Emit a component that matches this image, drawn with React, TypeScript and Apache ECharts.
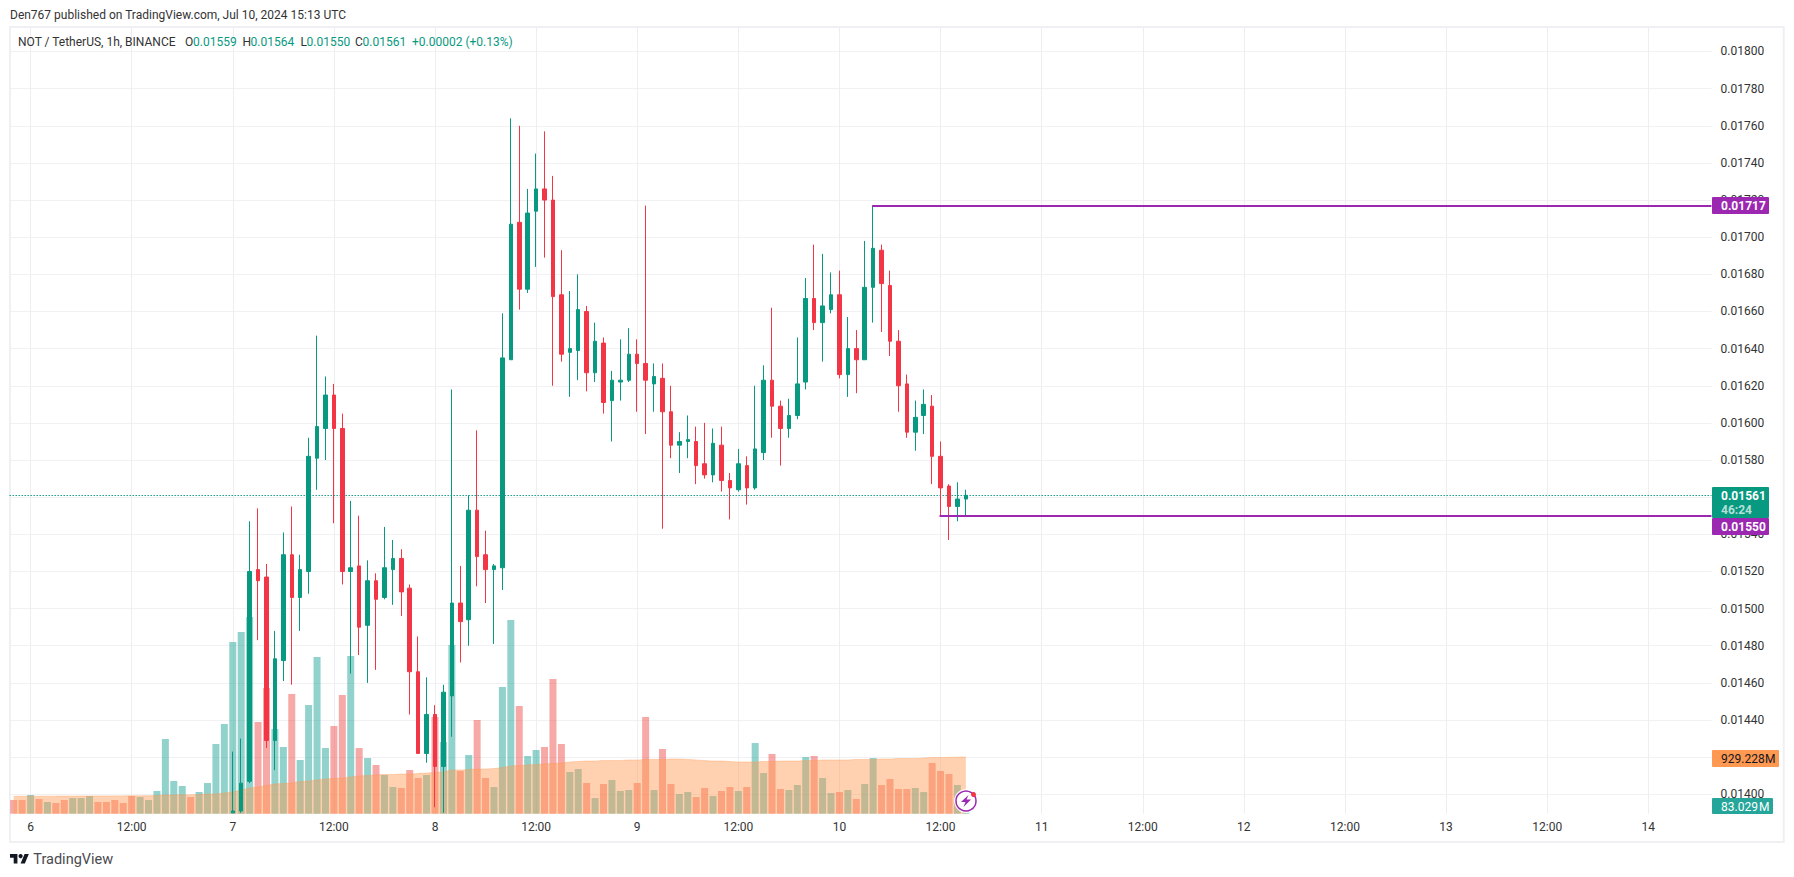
import React, { useEffect, useRef } from "react";
import * as echarts from "echarts";

const FONT = "Roboto, 'Liberation Sans', sans-serif";
const UP = "#089981";
const DOWN = "#F23645";
const PURPLE = "#9C27B0";
const BAND_COUNT = 202;
const FIRST_CANDLE = 26;

const timeTicks = ["6", "12:00", "7", "12:00", "8", "12:00", "9", "12:00", "10", "12:00", "11", "12:00", "12", "12:00", "13", "12:00", "14"];

// prices in units of 0.00001, from Jul 7 00:00 on (earlier candles lie below the pane)
const opens = [1390,1391,1407,1521,1517,1429,1472,1529,1506,1520,1581,1597,1615,1597,1520,1523,1491,1515,1506,1521,1527,1511,1466,1422,1443,1415,1453,1503,1494,1553,1529,1521,1522,1634,1708,1672,1714,1726,1720,1669,1638,1639,1660,1627,1643,1612,1622,1623,1637,1632,1621,1624,1606,1588,1590,1590,1578,1572,1588,1569,1564,1577,1565,1584,1623,1609,1597,1604,1622,1667,1654,1661,1669,1626,1640,1634,1673,1693,1674,1644,1621,1595,1604,1609,1582,1566,1555,1559];
const closes = [1391,1406,1520,1515,1429,1473,1529,1506,1521,1582,1598,1615,1597,1520,1522,1490,1515,1505,1522,1527,1509,1466,1422,1443,1415,1455,1503,1493,1553,1528,1521,1523,1635,1707,1672,1713,1726,1720,1668,1637,1640,1661,1627,1644,1611,1623,1623,1637,1632,1623,1625,1606,1588,1590,1591,1577,1572,1589,1569,1565,1578,1565,1586,1623,1609,1597,1604,1621,1667,1654,1663,1669,1626,1640,1634,1673,1694,1675,1644,1620,1595,1603,1610,1582,1565,1555,1559,1561];
const highs = [1423,1430,1547,1554,1524,1488,1541,1555,1529,1592,1647,1625,1621,1605,1558,1550,1526,1519,1544,1537,1532,1513,1485,1463,1448,1459,1618,1523,1561,1596,1542,1524,1659,1764,1760,1726,1745,1757,1733,1693,1671,1680,1663,1654,1646,1628,1645,1651,1645,1717,1632,1632,1620,1595,1604,1598,1600,1597,1598,1573,1586,1582,1620,1631,1662,1612,1613,1646,1678,1696,1691,1681,1682,1657,1650,1698,1717,1696,1682,1650,1626,1612,1618,1615,1590,1567,1568,1564];
const lows = [1390,1390,1406,1483,1425,1413,1461,1459,1488,1508,1564,1580,1546,1513,1465,1475,1460,1467,1505,1502,1496,1443,1422,1417,1393,1390,1431,1471,1480,1512,1503,1481,1510,1634,1661,1670,1684,1689,1620,1633,1614,1623,1617,1622,1605,1590,1612,1622,1606,1594,1606,1543,1581,1573,1581,1567,1570,1568,1563,1548,1563,1556,1564,1580,1592,1577,1592,1602,1618,1650,1633,1659,1624,1614,1616,1634,1654,1649,1636,1606,1592,1585,1594,1567,1550,1537,1547,1550];

// volume in millions, from Jul 5 22:00 on
const volumes = [225,225,307,241,192,175,225,257,257,290,192,192,225,175,290,274,225,372,1225,536,454,274,356,503,1143,1471,2816,2980,3226,1504,2061,1389,1094,1963,881,1783,2570,1077,1438,1947,2586,1077,913,799,635,438,421,717,585,635,1586,1176,2767,700,963,1537,585,438,2078,3177,1766,946,1045,1094,2209,1143,684,733,503,257,487,553,372,389,503,1586,389,1061,487,323,356,274,421,290,372,438,372,438,1159,667,979,405,389,471,930,946,585,339,356,389,241,487,913,471,569,405,405,421,356,831,700,651,471,83.029];
const earlyVolumeDirections = "RRGRGRRGGGRRRRRGGGGGGRGGGG";
const volumeAverage = [286,286,287,287,288,288,289,289,290,290,291,291,292,292,293,293,294,297,307,307,310,310,315,323,325,339,356,389,421,438,462,487,495,503,528,536,553,569,577,585,602,618,626,635,643,643,651,651,659,667,676,684,717,717,725,733,733,741,758,782,790,799,807,815,823,831,848,856,864,864,872,872,872,881,881,889,889,889,897,897,889,881,872,864,864,856,848,848,848,856,856,864,864,864,872,872,881,881,881,881,889,889,889,897,897,905,905,905,913,921,921,925,927,929.228];

const levelLines = [[102, 0.01717], [110, 0.0155]];
const currentPrice = [[0, 0.01561]];

const headerText = "Den767 published on TradingView.com, Jul 10, 2024 15:13 UTC";
const symbolText = "NOT / TetherUS, 1h, BINANCE";
const ohlc = [
  { key: "O", value: "0.01559", keyX: 185, valueX: 193 },
  { key: "H", value: "0.01564", keyX: 242.5, valueX: 250.5 },
  { key: "L", value: "0.01550", keyX: 300.5, valueX: 306.5 },
  { key: "C", value: "0.01561", keyX: 355, valueX: 362.5 },
];
const changeText = "+0.00002 (+0.13%)";

const TV_BARS = "M14 22H7V11H0V4h14v18zM28 22h-8l7.5-18h8L28 22z";
echarts.graphic.registerShape("tvLogo", echarts.graphic.extendPath(TV_BARS, {}) as any);

const priceScale = (n: number) => n / 100000;
const categories = Array.from({ length: BAND_COUNT }, (_, i) => {
  const k = (i - 2) / 12;
  return Number.isInteger(k) && timeTicks[k] ? timeTicks[k] : "";
});
const hasTimeLabel = (_: number, v: string) => v !== "";

function text(str: string, x: number, y: number, fill: string, extra: any = {}) {
  return {
    type: "text",
    z: 100,
    x,
    y,
    style: { text: str, fill, font: `12px ${FONT}`, textVerticalAlign: "middle", verticalAlign: "middle", ...extra },
  };
}
function tag(x1: number, x2: number, y1: number, y2: number, fill: string) {
  return { type: "rect", z: 90, shape: { x: x1, y: y1, width: x2 - x1, height: y2 - y1, r: 1 }, style: { fill } };
}

function buildOption() {
  const candleRows = categories.map((_, i) => {
    const k = i - FIRST_CANDLE;
    if (k < 0 || k >= opens.length) return ["-", "-", "-", "-"];
    return [priceScale(opens[k]), priceScale(closes[k]), priceScale(lows[k]), priceScale(highs[k])];
  });
  const volumeRows = volumes.map((v, i) => {
    const k = i - FIRST_CANDLE;
    const up = k < 0 ? earlyVolumeDirections[i] === "G" : closes[k] >= opens[k];
    return { value: v, itemStyle: { color: up ? "rgba(38,166,154,0.5)" : "rgba(239,83,80,0.5)" } };
  });
  const levelItem = (params: any, api: any) => {
    const p = api.coord([api.value(0), api.value(1)]);
    const cs = params.coordSys;
    const y = Math.round(p[1]);
    return {
      type: "line",
      shape: { x1: p[0] - 1, y1: y, x2: cs.x + cs.width, y2: y },
      style: { stroke: PURPLE, lineWidth: 2 },
    };
  };
  const currentItem = (params: any, api: any) => {
    const p = api.coord([api.value(0), api.value(1)]);
    const cs = params.coordSys;
    const y = Math.floor(p[1]) + 0.5;
    return {
      type: "line",
      shape: { x1: cs.x, y1: y, x2: cs.x + cs.width, y2: y },
      style: { stroke: UP, lineWidth: 1, lineDash: [1.4, 1.6] },
    };
  };

  return {
    animation: false,
    backgroundColor: "#ffffff",
    textStyle: { fontFamily: FONT },
    grid: { left: 9.5, top: 27, width: 1702, height: 786.7, containLabel: false },
    xAxis: {
      type: "category",
      data: categories,
      boundaryGap: true,
      axisLine: { show: false },
      axisTick: { show: false },
      axisLabel: { interval: hasTimeLabel, color: "#333333", fontSize: 12, fontFamily: FONT, margin: 7, hideOverlap: false },
      splitLine: { show: true, alignWithLabel: true, interval: hasTimeLabel, lineStyle: { color: "#eeeef1", width: 1 } },
    },
    yAxis: [
      {
        type: "value",
        position: "right",
        min: 0.01389553,
        max: 0.01813193,
        minInterval: 0.0002,
        maxInterval: 0.0002,
        splitNumber: 21,
        axisLine: { show: false },
        axisTick: { show: false },
        axisLabel: {
          color: "#333333",
          fontSize: 12,
          fontFamily: FONT,
          margin: 9,
          showMinLabel: false,
          showMaxLabel: false,
          formatter: (v: number) => v.toFixed(5),
        },
        splitLine: { show: true, showMinLine: false, showMaxLine: false, lineStyle: { color: "#f1f1f3", width: 1 } },
      },
      { type: "value", min: 0, max: 12902, show: false, splitLine: { show: false } },
    ],
    series: [
      { type: "bar", name: "Volume", yAxisIndex: 1, z: 1, barWidth: 7, data: volumeRows },
      {
        type: "line",
        name: "Volume MA",
        yAxisIndex: 1,
        z: 2,
        data: volumeAverage,
        smooth: 0.3,
        showSymbol: false,
        lineStyle: { color: "#FF9850", width: 1, opacity: 0.35 },
        areaStyle: { color: "#FF9850", opacity: 0.45 },
      },
      {
        type: "custom",
        name: "Last price",
        z: 3,
        data: currentPrice,
        encode: { x: 0, y: 1 },
        renderItem: currentItem,
      },
      {
        type: "candlestick",
        name: "NOT / TetherUS",
        z: 4,
        barWidth: 4,
        data: candleRows,
        itemStyle: { color: UP, color0: DOWN, borderColor: UP, borderColor0: DOWN, borderWidth: 1 },
      },
      {
        type: "custom",
        name: "Levels",
        z: 5,
        data: levelLines,
        encode: { x: 0, y: 1 },
        renderItem: levelItem,
      },
    ],
    graphic: [
      { type: "rect", z: 1, shape: { x: 10, y: 27, width: 1773.7, height: 815 }, style: { fill: "none", stroke: "#eff0f4", lineWidth: 2 } },
      text(headerText, 10, 15, "#333333"),
      text(symbolText, 18, 41.5, "#333333"),
      ...ohlc.flatMap((o) => [text(o.key, o.keyX, 41.5, "#333333"), text(o.value, o.valueX, 41.5, UP)]),
      text(changeText, 412, 41.5, UP),

      tag(1712, 1769, 197, 214, PURPLE),
      text("0.01717", 1721, 205.8, "#ffffff", { font: `bold 12px ${FONT}` }),
      tag(1712, 1769, 487, 518, UP),
      text("0.01561", 1721, 495.8, "#ffffff", { font: `bold 12px ${FONT}` }),
      text("46:24", 1721, 509.5, "#b5e0d9", { font: `bold 12px ${FONT}` }),
      tag(1712, 1769, 518, 535, PURPLE),
      text("0.01550", 1721, 526.5, "#ffffff", { font: `bold 12px ${FONT}` }),
      tag(1712, 1779, 750, 767, "#FF9850"),
      text("929.228", 1721, 758.5, "#131722"),
      text("M", 1765, 758.5, "#131722"),
      tag(1712, 1773, 798, 814, "#26A69A"),
      text("83.029", 1721, 806.5, "#ffffff"),
      text("M", 1759, 806.5, "#ffffff"),

      { type: "circle", z: 95, shape: { cx: 966, cy: 801, r: 12 }, style: { fill: "rgba(255,255,255,0.9)" } },
      { type: "circle", z: 96, shape: { cx: 966, cy: 801, r: 10 }, style: { fill: "#ffffff", stroke: PURPLE, lineWidth: 1.5 } },
      {
        type: "polygon",
        z: 97,
        shape: { points: [[968.5, 795], [961, 802], [965.5, 802], [963.5, 807], [971, 799.5], [966.5, 799.5]] },
        style: { fill: PURPLE },
      },
      { type: "circle", z: 98, shape: { cx: 973.5, cy: 794.5, r: 2.5 }, style: { fill: DOWN } },

      { type: "tvLogo", z: 100, x: 10, y: 851.9, scaleX: 0.53, scaleY: 0.53, style: { fill: "#131722" } },
      { type: "circle", z: 100, shape: { cx: 20.6, cy: 856.1, r: 2.1 }, style: { fill: "#131722" } },
      text("TradingView", 33.3, 859.5, "#4a4a4f", { font: `14.5px ${FONT}` }),
    ],
  };
}

export default function App() {
  const ref = useRef<HTMLDivElement>(null);
  useEffect(() => {
    const chart = echarts.init(ref.current!, null, { renderer: "svg" });
    chart.setOption(buildOption() as any);
    return () => chart.dispose();
  }, []);
  return <div ref={ref} style={{ position: "absolute", left: 0, top: 0, width: 1794, height: 877 }} />;
}
